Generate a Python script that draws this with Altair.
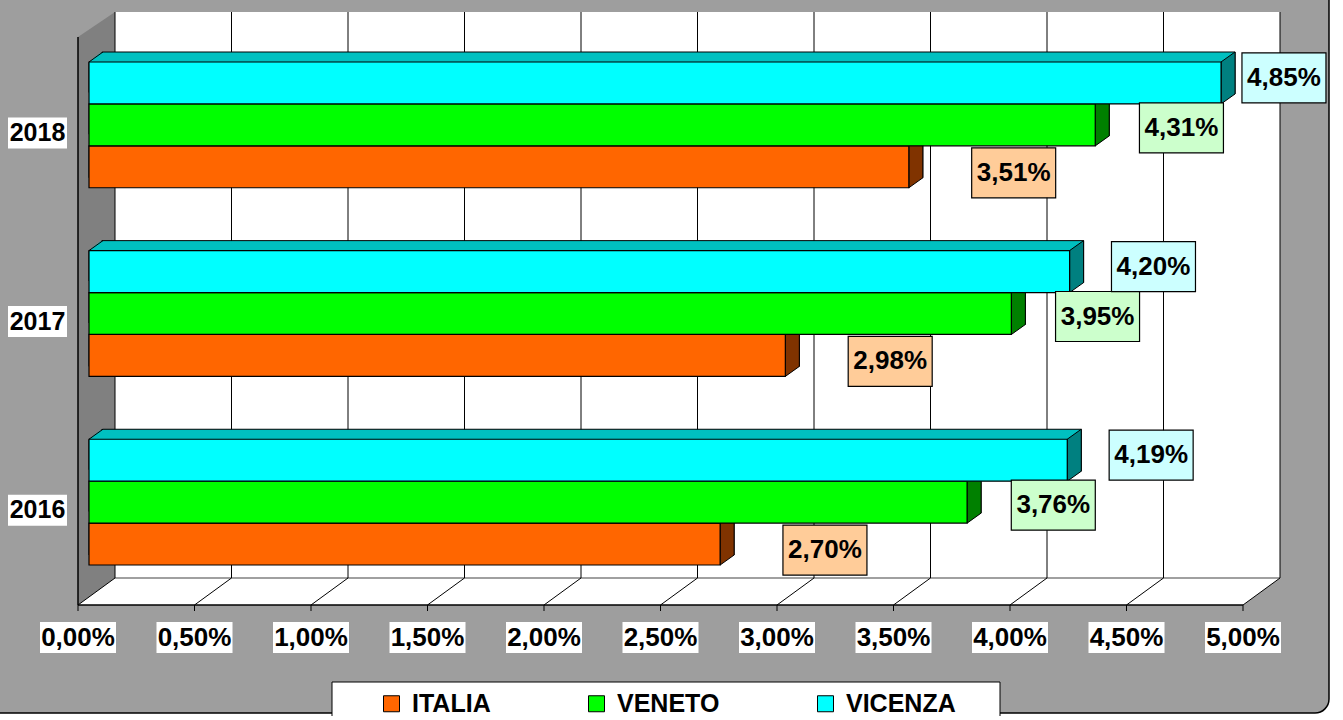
import altair as alt
import pandas as pd

# ---------------- data ----------------
years = ["2016", "2017", "2018"]
series_names = ["ITALIA", "VENETO", "VICENZA"]
italia = [2.70, 2.98, 3.51]
veneto = [3.76, 3.95, 4.31]
vicenza = [4.19, 4.20, 4.85]
tick_values = [0.0, 0.5, 1.0, 1.5, 2.0, 2.5, 3.0, 3.5, 4.0, 4.5, 5.0]
tick_labels = ["0,00%", "0,50%", "1,00%", "1,50%", "2,00%", "2,50%",
               "3,00%", "3,50%", "4,00%", "4,50%", "5,00%"]

rows = []
for name, vals in zip(series_names, [italia, veneto, vicenza]):
    for yr, v in zip(years, vals):
        rows.append({"year": yr, "series": name, "value": v, "zero": 0.0,
                     "label": f"{v:.2f}".replace(".", ",") + "%"})
bars = pd.DataFrame(rows)
ticks = pd.DataFrame({"t": tick_values, "lab": tick_labels})
one = pd.DataFrame({"k": [0]})
years_df = pd.DataFrame({"year": years})

# ---------------- style ----------------
W, H = 1343, 716
FONT = "Liberation Sans"
front_col = ["#ff6600", "#00ff00", "#00ffff"]
top_col = ["#c04d00", "#00c000", "#00c0c0"]
side_col = ["#803300", "#008000", "#008080"]
light_col = ["#ffcc99", "#ccffcc", "#ccffff"]
PATTERN = "#9e9e9e"
WALL = "#808080"
# horizontal gap (axis units) between a bar end and its label box centre, and a
# small vertical nudge (px) of the label box, per series
label_gap = {"ITALIA": 0.45, "VENETO": 0.37, "VICENZA": 0.36}
label_dy = {"ITALIA": 6, "VENETO": 3, "VICENZA": -5}
LABEL_MAX = 5.12

X0, U = 91, 233
BACK, FRONT = 24, -13
WALL_TOP, WALL_FRONT_TOP = 12, 37
FLOOR_BACK, FLOOR_FRONT = 578, 605
BX0, BX1 = X0 + BACK, X0 + 5 * U + BACK
FX0, FX1 = X0 + FRONT, X0 + 5 * U + FRONT
DX, DY = 14, 10
Y_TOP, Y_BOT = 62, 565
YEAR_ORDER = ["2018", "2017", "2016"]

XS = alt.Scale(domain=[0, 5], range=[X0, X0 + 5 * U], zero=False, nice=False)
YS = alt.Scale(type="band", domain=YEAR_ORDER, range=[Y_TOP, Y_BOT],
               paddingInner=1 / 3, paddingOuter=0)
YS_BACK = alt.Scale(type="band", domain=YEAR_ORDER, range=[Y_TOP - DY, Y_BOT - DY],
                    paddingInner=1 / 3, paddingOuter=0)
YOS = alt.Scale(type="band", domain=["VICENZA", "VENETO", "ITALIA"],
                paddingInner=0, paddingOuter=0)

def fill_scale(cols):
    return alt.Scale(domain=series_names, range=cols)

ey = alt.Y("year:N", scale=YS, axis=None)
eyo = alt.YOffset("series:N", scale=YOS)

def box(w, h, dy=0):
    return f"M{-w/2},{-h/2 + dy}H{w/2}V{h/2 + dy}H{-w/2}Z"

# ---------------- frame / walls ----------------
frame = alt.Chart(one).mark_rect(cornerRadius=14, fill=PATTERN, stroke="black",
                                 strokeWidth=1.5).encode(
    x=alt.value(-20), x2=alt.value(1329), y=alt.value(-20), y2=alt.value(713))

back_wall = alt.Chart(one).mark_rect(fill="white").encode(
    x=alt.value(BX0), x2=alt.value(BX1), y=alt.value(WALL_TOP), y2=alt.value(FLOOR_BACK))

left_wall_path = (f"M{FX0},{WALL_FRONT_TOP}L{BX0},{WALL_TOP}L{BX0},{FLOOR_BACK}"
                  f"L{FX0},{FLOOR_FRONT}Z")
left_wall = alt.Chart(one).mark_point(shape=left_wall_path, size=4, filled=True,
                                      fill=WALL, opacity=1, strokeWidth=0).encode(
    x=alt.value(0), y=alt.value(0))

floor_path = (f"M{BX0},{FLOOR_BACK}L{BX1},{FLOOR_BACK}L{FX1},{FLOOR_FRONT}"
              f"L{FX0},{FLOOR_FRONT}Z")
floor = alt.Chart(one).mark_point(shape=floor_path, size=4, filled=True,
                                  fill="white", opacity=1, strokeWidth=0).encode(
    x=alt.value(0), y=alt.value(0))

floor_back_line = alt.Chart(one).mark_rule(color=WALL, strokeWidth=1.5).encode(
    x=alt.value(BX0), x2=alt.value(BX1), y=alt.value(FLOOR_BACK))

grid = alt.Chart(ticks).mark_rule(xOffset=BACK, color="black", strokeWidth=1).encode(
    x=alt.X("t:Q", scale=XS, axis=None), y=alt.value(WALL_TOP), y2=alt.value(FLOOR_BACK))

floor_lines = alt.Chart(ticks).mark_rule(xOffset=BACK, x2Offset=FRONT, color="black",
                                         strokeWidth=1).encode(
    x=alt.X("t:Q", scale=XS, axis=None), x2="t:Q",
    y=alt.value(FLOOR_BACK), y2=alt.value(FLOOR_FRONT))

front_axis = alt.Chart(one).mark_rule(color="black", strokeWidth=1.5).encode(
    x=alt.value(FX0), x2=alt.value(FX1), y=alt.value(FLOOR_FRONT))
left_axis = alt.Chart(one).mark_rule(color="black", strokeWidth=1.5).encode(
    x=alt.value(FX0), y=alt.value(WALL_FRONT_TOP), y2=alt.value(FLOOR_FRONT))

tick_marks = alt.Chart(ticks).mark_rule(xOffset=FRONT, color="black", strokeWidth=1).encode(
    x=alt.X("t:Q", scale=XS, axis=None), y=alt.value(FLOOR_FRONT), y2=alt.value(611))

tick_box = alt.Chart(ticks).mark_point(shape=box(76, 31), size=4, filled=True, fill="white",
                                       opacity=1, strokeWidth=0, xOffset=FRONT).encode(
    x=alt.X("t:Q", scale=XS, axis=None), y=alt.value(637.5))
tick_text = alt.Chart(ticks).mark_text(font=FONT, fontSize=26, fontWeight="bold",
                                       color="black", dx=FRONT, baseline="middle",
                                       align="center").encode(
    x=alt.X("t:Q", scale=XS, axis=None), y=alt.value(638), text="lab:N")

year_box = alt.Chart(years_df).mark_point(shape=box(59, 31), size=4, filled=True,
                                          fill="white", opacity=1, strokeWidth=0,
                                          yOffset=8).encode(
    x=alt.value(37.5), y=ey)
year_text = alt.Chart(years_df).mark_text(font=FONT, fontSize=25, fontWeight="bold",
                                          color="black", dy=8, baseline="middle",
                                          align="center").encode(
    x=alt.value(37.5), y=ey, text="year:N")

# ---------------- 3D bars ----------------
# top face: the bar pushed back by the depth (DX, DY), drawn behind the front faces
top_face = alt.Chart(bars).mark_bar(xOffset=-2, x2Offset=DX, stroke="black",
                                    strokeWidth=1).encode(
    x=alt.X("zero:Q", scale=XS, axis=None), x2="value:Q",
    y=alt.Y("year:N", scale=YS_BACK, axis=None), yOffset=eyo,
    fill=alt.Fill("series:N", scale=fill_scale(top_col), legend=None))

side_path = f"M0,-21L{DX},{-21 - DY}L{DX},{21 - DY}L0,21Z"
side_face = alt.Chart(bars).mark_point(shape=side_path, size=4, filled=True, opacity=1,
                                       stroke="black", strokeWidth=1).encode(
    x=alt.X("value:Q", scale=XS, axis=None), y=ey, yOffset=eyo,
    fill=alt.Fill("series:N", scale=fill_scale(side_col), legend=None))

corner = alt.Chart(bars).mark_point(shape=f"M-1.5,-32.5L{DX + 0.5},-32.5L-1.5,-20Z", size=4,
                                    filled=True, fill=WALL, opacity=1, strokeWidth=0,
                                    xOffset=-2).encode(
    x=alt.X("zero:Q", scale=XS, axis=None), y=ey, yOffset=eyo)
corner_line = alt.Chart(bars).mark_point(shape=f"M0,-21L{DX},{-21 - DY}", size=4,
                                         filled=False, stroke="black", strokeWidth=1,
                                         opacity=1, xOffset=-2).encode(
    x=alt.X("zero:Q", scale=XS, axis=None), y=ey, yOffset=eyo)

front_face = alt.Chart(bars).mark_bar(xOffset=-2, stroke="black", strokeWidth=1.2).encode(
    x=alt.X("zero:Q", scale=XS, axis=None), x2="value:Q", y=ey, yOffset=eyo,
    fill=alt.Fill("series:N", scale=fill_scale(front_col),
                  legend=alt.Legend(orient="none", legendX=379, legendY=691,
                                    direction="horizontal", title=None,
                                    symbolType="square", symbolSize=256,
                                    symbolStrokeColor="black", symbolStrokeWidth=1,
                                    labelFont=FONT, labelFontSize=25,
                                    labelFontWeight="bold", labelColor="black",
                                    labelOffset=8, columnPadding=93, padding=0)))

# ---------------- value labels ----------------
gap_expr = " : ".join(
    [f"datum.series == '{k}' ? {v}" for k, v in label_gap.items()] + ["0.4"])
lab_base = alt.Chart(bars).transform_calculate(
    lx=f"min(datum.value + ({gap_expr}), {LABEL_MAX})")

label_layers = []
for s, c in zip(series_names, light_col):
    sub = lab_base.transform_filter(alt.datum.series == s)
    label_layers.append(sub.mark_point(shape=box(84, 50, label_dy[s]), size=4, filled=True,
                                       opacity=1, fill=c, stroke="black",
                                       strokeWidth=1.2).encode(
        x=alt.X("lx:Q", scale=XS, axis=None), y=ey, yOffset=eyo))
    label_layers.append(sub.mark_text(font=FONT, fontSize=26, fontWeight="bold",
                                      color="black", baseline="middle", align="center",
                                      dy=label_dy[s]).encode(
        x=alt.X("lx:Q", scale=XS, axis=None), y=ey, yOffset=eyo, text="label:N"))

legend_box = alt.Chart(one).mark_rect(fill="white", stroke="black", strokeWidth=1).encode(
    x=alt.value(332), x2=alt.value(1000), y=alt.value(682), y2=alt.value(740))

chart = alt.layer(
    frame, back_wall, left_wall, floor, floor_back_line, grid, floor_lines,
    front_axis, left_axis, tick_marks, tick_box, tick_text, year_box, year_text,
    top_face, side_face, corner, corner_line, front_face, *label_layers,
    legend_box,
).resolve_scale(fill="independent", y="independent").properties(
    width=W, height=H, autosize=alt.AutoSizeParams(type="none"), padding=0,
    background="white",
).configure_view(stroke=None)

chart.save("out.html", embed_options={"renderer": "svg", "actions": False})
